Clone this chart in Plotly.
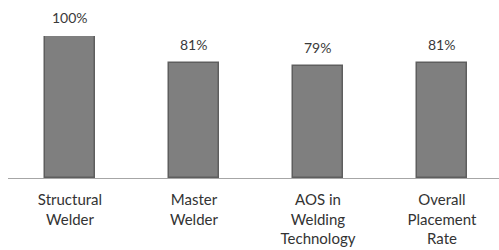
import plotly.graph_objects as go

categories = ["Structural<br>Welder", "Master<br>Welder", "AOS in<br>Welding<br>Technology", "Overall<br>Placement<br>Rate"]
values = [100, 81, 79, 81]
labels = ["100%", "81%", "79%", "81%"]

fig = go.Figure()
fig.add_trace(go.Bar(
    x=categories, y=values,
    width=0.41,
    marker=dict(color="#7f7f7f", line=dict(color="#5e5e5e", width=1.5)),
    hoverinfo="skip",
))
for c, v, t in zip(categories, values, labels):
    fig.add_annotation(x=c, y=v, text=t, showarrow=False, yanchor="bottom",
                       yshift=8, font=dict(family="Lato", size=14, color="#3a3a3a"))
fig.update_layout(
    width=499, height=250,
    margin=dict(l=8, r=0, t=36, b=72),
    plot_bgcolor="white", paper_bgcolor="white",
    showlegend=False,
    bargap=0,
)
fig.update_xaxes(
    range=[-0.5, 3.46], showline=True, linecolor="#a6a6a6", linewidth=1,
    ticks="", tickfont=dict(family="Lato", size=15, color="#333333"),
    showgrid=False, fixedrange=True, automargin=False, ticklabelstandoff=8,
)
fig.update_yaxes(
    range=[0, 100], visible=False, showgrid=False, zeroline=False, automargin=False,
    fixedrange=True,
)
fig.write_html("out.html", config={"displayModeBar": False},
               post_script="document.body.style.margin='0';document.body.style.overflow='hidden';")
